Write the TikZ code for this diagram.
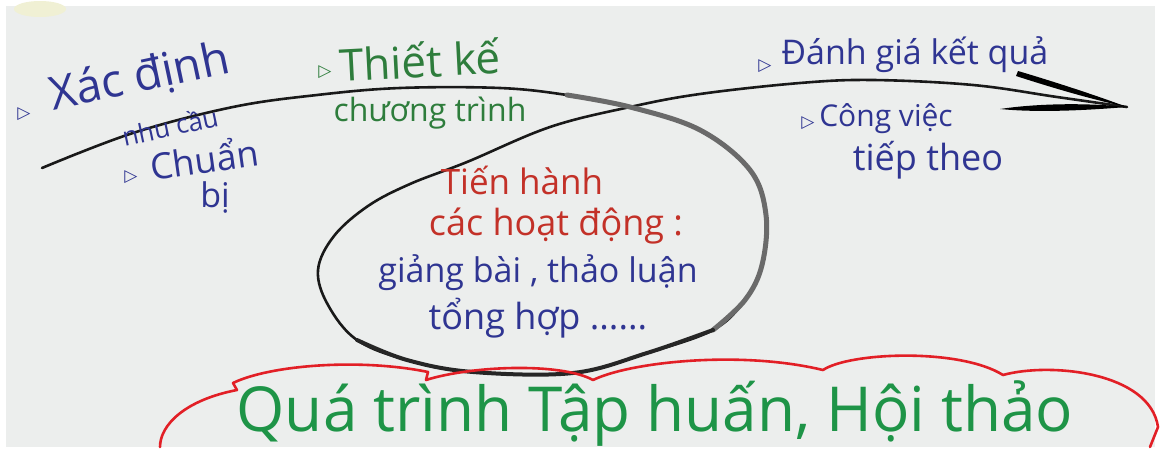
\documentclass[tikz,border=0pt]{standalone}
\usepackage{fontspec}
\setmainfont{Open Sans}
\newfontfamily\symfont{DejaVu Sans}
\definecolor{paper}{HTML}{ECEEED}
\definecolor{inkblue}{HTML}{2F3592}
\definecolor{inkgreen}{HTML}{2E7D3C}
\definecolor{inkred}{HTML}{C33128}
\definecolor{markgreen}{HTML}{1E9447}
\definecolor{cloudred}{HTML}{E21F26}
\definecolor{loopgrey}{HTML}{6A6A6A}
\newcommand{\fs}[1]{\fontsize{#1}{#1}\selectfont}
\begin{document}
\begin{tikzpicture}[x=1pt,y=-1pt,
  note/.style={inner sep=0pt, font=\fs{#1}},
  bullet/.style={inner sep=0pt, font=\symfont\fs{17}, text=inkblue},
  loop/.style={draw=black!90, line width=2.6pt, line cap=round, line join=round},
  cloudline/.style={draw=cloudred, line width=2.6pt, line cap=round, line join=round}]
\useasboundingbox (0,0) rectangle (1161,450);
% white frame and the sheet of paper
\fill[white] (0,0) rectangle (1161,450);
\fill[paper] (6,6) rectangle (1155,447);
\fill[yellow!12!paper] (40,9) ellipse [x radius=26, y radius=8];

% the long stroke that loops round the middle activity and ends as an arrow
\coordinate (start) at (42,168);
\coordinate (cross) at (630,107);
\coordinate (tip) at (1127,107);
\draw[loop] plot[smooth, tension=0.6] coordinates {
  (start) (133,133) (233,107) (317,95) (400,88) (500,88) (567,95) (cross)
  (700,130) (750,170) (766,215) (762,265) (745,300) (713,330) (647,353)
  (573,373) (473,372) (407,360) (357,340) (328,305) (318,270) (334,236)
  (368,206) (410,184) (467,162) (550,127) (cross) (700,94) (800,83)
  (873,80) (973,85) (1057,97) (tip)};
% heavier, worn marker on the right side of the loop
\draw[draw=loopgrey, line width=5pt, line cap=round] plot[smooth, tension=0.6] coordinates {
  (567,95) (cross) (700,130) (750,170) (766,215) (762,265) (745,300) (713,330)};
\draw[draw=black!85, line width=4pt, line cap=round] plot[smooth, tension=0.6] coordinates {
  (713,330) (647,353) (573,373) (473,372) (407,360) (357,340)};
% arrow barbs
\fill[black] (1018,71) .. controls (1055,82) and (1095,95) .. (tip)
  .. controls (1090,99) and (1050,87) .. (1016,76) -- cycle;
\fill[black] (1000,109) .. controls (1040,103) and (1090,103) .. (tip)
  .. controls (1090,110) and (1040,113) .. (1000,109) -- cycle;

% the cloud round the title
\draw[cloudline] (160,447) .. controls (160,425) and (185,400) .. (237,390)
  -- (233,383) .. controls (270,365) and (360,358) .. (428,372)
  -- (426,380) .. controls (470,366) and (560,362) .. (593,380)
  .. controls (630,362) and (740,350) .. (823,370)
  .. controls (850,352) and (960,348) .. (1003,375)
  .. controls (1050,362) and (1150,372) .. (1158,427)
  -- (1150,447);

% left-hand notes
\node[bullet] (b1) at (24,114) {▷};
\node[note=46, text=inkblue, rotate=12] (xac) at (140,78) {Xác định};
\node[note=26, text=inkblue, rotate=12] (nhu) at (170,126) {nhu cầu};
\node[bullet] (b2) at (131,177) {▷};
\node[note=36, text=inkblue, rotate=8] (chuan) at (204,158) {Chuẩn};
\node[note=34, text=inkblue] (bi) at (215,198) {bị};

% design step
\node[bullet, text=inkgreen] (b3) at (325,72) {▷};
\node[note=44, text=inkgreen, rotate=3] (thiet) at (420,60) {Thiết kế};
\node[note=32, text=inkgreen] (chuong) at (430,113) {chương trình};

% activities inside the loop
\node[note=35, text=inkred] (tien) at (522,180) {Tiến hành};
\node[note=36, text=inkred] (cac) at (556,226) {các hoạt động :};
\node[note=34, text=inkblue] (giang) at (538,273) {giảng bài , thảo luận};
\node[note=36, text=inkblue] (tong) at (538,318) {tổng hợp ......};

% right-hand notes
\node[bullet] (b4) at (765,66) {▷};
\node[note=34, text=inkblue] (danh) at (915,55) {Đánh giá kết quả};
\node[bullet] (b5) at (808,123) {▷};
\node[note=30, text=inkblue] (cong) at (886,119) {Công việc};
\node[note=36, text=inkblue] (tiep) at (928,160) {tiếp theo};

% title
\node[note=62, text=markgreen] (title) at (655,414) {Quá trình Tập huấn, Hội thảo};
\end{tikzpicture}
\end{document}
